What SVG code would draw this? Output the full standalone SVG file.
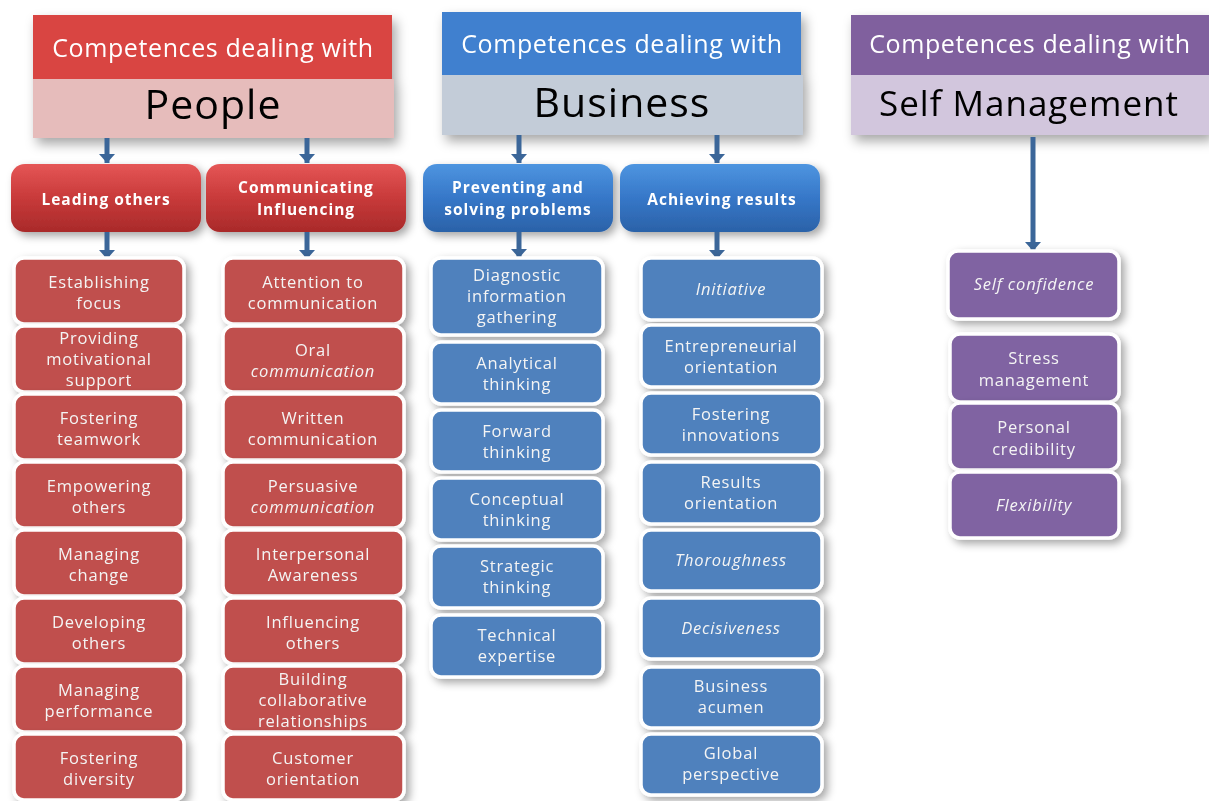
<svg xmlns="http://www.w3.org/2000/svg" width="1209" height="801" viewBox="0 0 1209 801">
<defs>
<style>
.hd{font-family:"Open Sans","Liberation Sans",sans-serif;font-size:25px;fill:#FFFFFF;text-anchor:middle;letter-spacing:0.6px}
.big{font-family:"Open Sans","Liberation Sans",sans-serif;fill:#000;text-anchor:middle;letter-spacing:1px}
.cat{font-family:"Open Sans","Liberation Sans",sans-serif;font-size:15.5px;font-weight:bold;fill:#FFFFFF;text-anchor:middle;letter-spacing:1px}
.lf{font-family:"Open Sans","Liberation Sans",sans-serif;font-size:16.5px;fill:#F4F4F4;text-anchor:middle;letter-spacing:0.8px}
.it{font-style:italic}
.red{fill:#C0504D;stroke:#FFFFFF;stroke-width:3.5}
.blue{fill:#4F81BD;stroke:#FFFFFF;stroke-width:3.5}
.pur{fill:#8064A2;stroke:#FFFFFF;stroke-width:3.5}
.conn{stroke:#3B6699;stroke-width:5;fill:none;marker-end:url(#ah)}
</style>
<marker id="ah" markerUnits="userSpaceOnUse" markerWidth="9" markerHeight="16" refX="9" refY="8" orient="auto" viewBox="0 0 9 16">
<path d="M0,0 L9,8 L0,16 Z" fill="#3B6699"/>
</marker>
<linearGradient id="gRed" x1="0" y1="0" x2="0" y2="1"><stop offset="0" stop-color="#E55656"/><stop offset="0.5" stop-color="#C83A3A"/><stop offset="1" stop-color="#A92A2A"/></linearGradient>
<linearGradient id="gBlue" x1="0" y1="0" x2="0" y2="1"><stop offset="0" stop-color="#4E95E0"/><stop offset="0.5" stop-color="#3677C8"/><stop offset="1" stop-color="#2B62A8"/></linearGradient>
<filter id="sh" x="-20%" y="-20%" width="150%" height="160%"><feDropShadow dx="4" dy="6" stdDeviation="6" flood-color="#000" flood-opacity="0.35"/></filter>
<filter id="shl" x="-15%" y="-15%" width="140%" height="140%"><feDropShadow dx="4" dy="4" stdDeviation="4" flood-color="#000" flood-opacity="0.35"/></filter>
</defs>
<rect width="1209" height="801" fill="#FFFFFF"/>

<g id="hdr-people" filter="url(#sh)">
<rect x="33" y="15" width="359" height="64" fill="#D94442"/>
<rect x="33" y="79" width="361" height="59" fill="#E6BCBB"/>
<text class="hd" x="213" y="57">Competences dealing with</text>
<text class="big" x="213" y="119" font-size="41">People</text>
</g>
<g id="hdr-business" filter="url(#sh)">
<rect x="442" y="12" width="359" height="63" fill="#3F80CF"/>
<rect x="442" y="75" width="361" height="60" fill="#C3CCD8"/>
<text class="hd" x="622" y="53">Competences dealing with</text>
<text class="big" x="622" y="117" font-size="41">Business</text>
</g>
<g id="hdr-self" filter="url(#sh)">
<rect x="851" y="15" width="358" height="60" fill="#80609E"/>
<rect x="851" y="75" width="358" height="60" fill="#D2C6DD"/>
<text class="hd" x="1030" y="53">Competences dealing with</text>
<text class="big" x="1029" y="116" font-size="35">Self Management</text>
</g>

<g id="cat-leading" filter="url(#shl)"><rect x="11" y="164" width="190" height="68" rx="14" fill="url(#gRed)"/><text class="cat" x="106" y="205">Leading others</text></g>
<g id="cat-communicating" filter="url(#shl)"><rect x="206" y="164" width="200" height="68" rx="14" fill="url(#gRed)"/><text class="cat" x="306" y="193">Communicating</text><text class="cat" x="306" y="215">Influencing</text></g>
<g id="cat-preventing" filter="url(#shl)"><rect x="423" y="164" width="190" height="68" rx="14" fill="url(#gBlue)"/><text class="cat" x="518" y="193">Preventing and</text><text class="cat" x="518" y="215">solving problems</text></g>
<g id="cat-achieving" filter="url(#shl)"><rect x="620" y="164" width="200" height="68" rx="14" fill="url(#gBlue)"/><text class="cat" x="722" y="205">Achieving results</text></g>

<g id="connectors">
<path class="conn" d="M107,138 V163"/>
<path class="conn" d="M307,138 V163"/>
<path class="conn" d="M519,135 V163"/>
<path class="conn" d="M717,135 V163"/>
<path class="conn" d="M107,232 V259"/>
<path class="conn" d="M307,232 V259"/>
<path class="conn" d="M519,232 V258"/>
<path class="conn" d="M717,232 V259"/>
<path class="conn" d="M1033,137 V251"/>
</g>

<!-- column 1 -->
<g id="l-establishing" filter="url(#shl)"><rect class="red" x="14" y="258" width="170" height="66" rx="10"/><text class="lf" x="99" y="288">Establishing</text><text class="lf" x="99" y="309">focus</text></g>
<g id="l-providing" filter="url(#shl)"><rect class="red" x="14" y="326" width="170" height="66" rx="10"/><text class="lf" x="99" y="344">Providing</text><text class="lf" x="99" y="365">motivational</text><text class="lf" x="99" y="386">support</text></g>
<g id="l-teamwork" filter="url(#shl)"><rect class="red" x="14" y="394" width="170" height="66" rx="10"/><text class="lf" x="99" y="424">Fostering</text><text class="lf" x="99" y="445">teamwork</text></g>
<g id="l-empowering" filter="url(#shl)"><rect class="red" x="14" y="462" width="170" height="66" rx="10"/><text class="lf" x="99" y="492">Empowering</text><text class="lf" x="99" y="513">others</text></g>
<g id="l-change" filter="url(#shl)"><rect class="red" x="14" y="530" width="170" height="66" rx="10"/><text class="lf" x="99" y="560">Managing</text><text class="lf" x="99" y="581">change</text></g>
<g id="l-developing" filter="url(#shl)"><rect class="red" x="14" y="598" width="170" height="66" rx="10"/><text class="lf" x="99" y="628">Developing</text><text class="lf" x="99" y="649">others</text></g>
<g id="l-performance" filter="url(#shl)"><rect class="red" x="14" y="666" width="170" height="66" rx="10"/><text class="lf" x="99" y="696">Managing</text><text class="lf" x="99" y="717">performance</text></g>
<g id="l-diversity" filter="url(#shl)"><rect class="red" x="14" y="734" width="170" height="66" rx="10"/><text class="lf" x="99" y="764">Fostering</text><text class="lf" x="99" y="785">diversity</text></g>

<!-- column 2 -->
<g id="l-attention" filter="url(#shl)"><rect class="red" x="223" y="258" width="181" height="66" rx="10"/><text class="lf" x="313" y="288">Attention to</text><text class="lf" x="313" y="309">communication</text></g>
<g id="l-oral" filter="url(#shl)"><rect class="red" x="223" y="326" width="181" height="66" rx="10"/><text class="lf" x="313" y="356">Oral</text><text class="lf it" x="313" y="377">communication</text></g>
<g id="l-written" filter="url(#shl)"><rect class="red" x="223" y="394" width="181" height="66" rx="10"/><text class="lf" x="313" y="424">Written</text><text class="lf" x="313" y="445">communication</text></g>
<g id="l-persuasive" filter="url(#shl)"><rect class="red" x="223" y="462" width="181" height="66" rx="10"/><text class="lf" x="313" y="492">Persuasive</text><text class="lf it" x="313" y="513">communication</text></g>
<g id="l-interpersonal" filter="url(#shl)"><rect class="red" x="223" y="530" width="181" height="66" rx="10"/><text class="lf" x="313" y="560">Interpersonal</text><text class="lf" x="313" y="581">Awareness</text></g>
<g id="l-influencing" filter="url(#shl)"><rect class="red" x="223" y="598" width="181" height="66" rx="10"/><text class="lf" x="313" y="628">Influencing</text><text class="lf" x="313" y="649">others</text></g>
<g id="l-building" filter="url(#shl)"><rect class="red" x="223" y="666" width="181" height="66" rx="10"/><text class="lf" x="313" y="685">Building</text><text class="lf" x="313" y="706">collaborative</text><text class="lf" x="313" y="727">relationships</text></g>
<g id="l-customer" filter="url(#shl)"><rect class="red" x="223" y="734" width="181" height="66" rx="10"/><text class="lf" x="313" y="764">Customer</text><text class="lf" x="313" y="785">orientation</text></g>

<!-- column 3 -->
<g id="l-diagnostic" filter="url(#shl)"><rect class="blue" x="431" y="258" width="172" height="77" rx="10"/><text class="lf" x="517" y="281">Diagnostic</text><text class="lf" x="517" y="302">information</text><text class="lf" x="517" y="323">gathering</text></g>
<g id="l-analytical" filter="url(#shl)"><rect class="blue" x="431" y="342" width="172" height="62" rx="10"/><text class="lf" x="517" y="369">Analytical</text><text class="lf" x="517" y="390">thinking</text></g>
<g id="l-forward" filter="url(#shl)"><rect class="blue" x="431" y="410" width="172" height="62" rx="10"/><text class="lf" x="517" y="437">Forward</text><text class="lf" x="517" y="458">thinking</text></g>
<g id="l-conceptual" filter="url(#shl)"><rect class="blue" x="431" y="478" width="172" height="62" rx="10"/><text class="lf" x="517" y="505">Conceptual</text><text class="lf" x="517" y="526">thinking</text></g>
<g id="l-strategic" filter="url(#shl)"><rect class="blue" x="431" y="546" width="172" height="62" rx="10"/><text class="lf" x="517" y="572">Strategic</text><text class="lf" x="517" y="593">thinking</text></g>
<g id="l-technical" filter="url(#shl)"><rect class="blue" x="431" y="615" width="172" height="62" rx="10"/><text class="lf" x="517" y="641">Technical</text><text class="lf" x="517" y="662">expertise</text></g>

<!-- column 4 -->
<g id="l-initiative" filter="url(#shl)"><rect class="blue" x="641" y="258" width="181" height="62" rx="10"/><text class="lf it" x="731" y="295">Initiative</text></g>
<g id="l-entrepreneurial" filter="url(#shl)"><rect class="blue" x="641" y="325" width="181" height="62" rx="10"/><text class="lf" x="731" y="352">Entrepreneurial</text><text class="lf" x="731" y="373">orientation</text></g>
<g id="l-innovations" filter="url(#shl)"><rect class="blue" x="641" y="393" width="181" height="62" rx="10"/><text class="lf" x="731" y="420">Fostering</text><text class="lf" x="731" y="441">innovations</text></g>
<g id="l-results" filter="url(#shl)"><rect class="blue" x="641" y="462" width="181" height="62" rx="10"/><text class="lf" x="731" y="488">Results</text><text class="lf" x="731" y="509">orientation</text></g>
<g id="l-thoroughness" filter="url(#shl)"><rect class="blue" x="641" y="530" width="181" height="61" rx="10"/><text class="lf it" x="731" y="566">Thoroughness</text></g>
<g id="l-decisiveness" filter="url(#shl)"><rect class="blue" x="641" y="598" width="181" height="61" rx="10"/><text class="lf it" x="731" y="634">Decisiveness</text></g>
<g id="l-acumen" filter="url(#shl)"><rect class="blue" x="641" y="667" width="181" height="61" rx="10"/><text class="lf" x="731" y="692">Business</text><text class="lf" x="731" y="713">acumen</text></g>
<g id="l-global" filter="url(#shl)"><rect class="blue" x="641" y="734" width="181" height="61" rx="10"/><text class="lf" x="731" y="759">Global</text><text class="lf" x="731" y="780">perspective</text></g>

<!-- column 5 -->
<g id="l-selfconf" filter="url(#shl)"><rect class="pur" x="948" y="251" width="171" height="68" rx="10"/><text class="lf it" x="1034" y="290" font-size="14.5">Self confidence</text></g>
<g id="l-stress" filter="url(#shl)"><rect class="pur" x="950" y="334" width="169" height="68" rx="10"/><text class="lf" x="1034" y="364">Stress</text><text class="lf" x="1034" y="386">management</text></g>
<g id="l-credibility" filter="url(#shl)"><rect class="pur" x="950" y="403" width="169" height="67" rx="10"/><text class="lf" x="1034" y="433">Personal</text><text class="lf" x="1034" y="455">credibility</text></g>
<g id="l-flexibility" filter="url(#shl)"><rect class="pur" x="950" y="472" width="169" height="66" rx="10"/><text class="lf it" x="1034" y="511">Flexibility</text></g>
</svg>
